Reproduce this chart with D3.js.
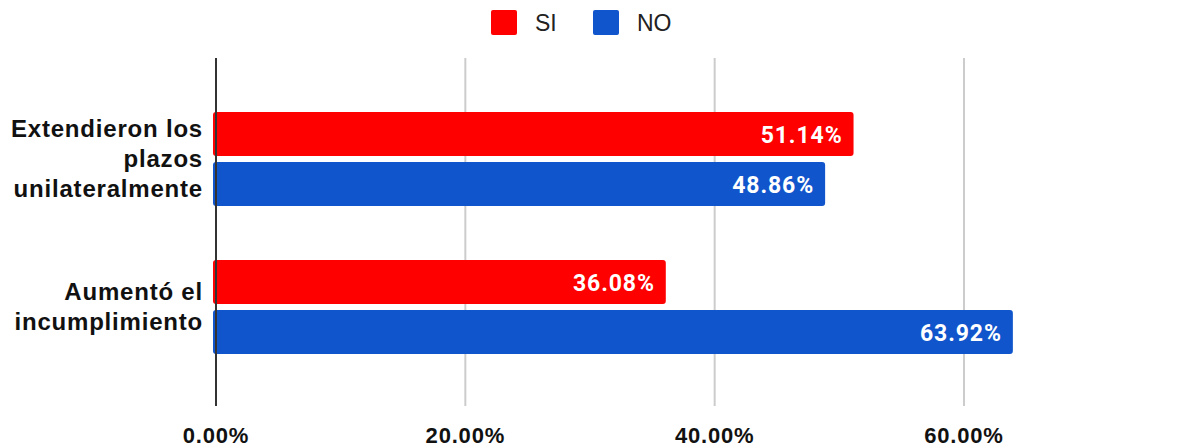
<!DOCTYPE html>
<html>
<head>
<meta charset="utf-8">
<script src="https://cdn.jsdelivr.net/npm/d3@7"></script>
<style>
  body { margin: 0; background: #fff; }
  svg { display: block; }
</style>
</head>
<body>
<div id="chart"></div>
<script>
var categories = ["Extendieron los plazos unilateralmente", "Aumentó el incumplimiento"];
var categoryLines = [["Extendieron los", "plazos", "unilateralmente"], ["Aumentó el", "incumplimiento"]];
var seriesNames = ["SI", "NO"];
var siValues = [0.5114, 0.3608];
var noValues = [0.4886, 0.6392];
var tickValues = [0, 0.2, 0.4, 0.6];

var width = 1200,
  height = 447;

var color = d3.scaleOrdinal().domain(seriesNames).range(["#ff0000", "#1155cc"]);
var pct = d3.format(".2%");

var svg = d3
  .select("#chart")
  .append("svg")
  .attr("width", width)
  .attr("height", height);

var x = d3.scaleLinear().domain([0, 0.6]).range([216, 964]);

var y0 = d3
  .scaleBand()
  .domain(categories)
  .range([112, 354])
  .paddingInner(54 / 148);

var y1 = d3
  .scaleBand()
  .domain(seriesNames)
  .range([0, y0.bandwidth()])
  .paddingInner(0.12);

// gridlines
svg
  .selectAll(".grid")
  .data(tickValues.slice(1))
  .enter()
  .append("line")
  .attr("class", "grid")
  .attr("x1", function(d) { return x(d); })
  .attr("x2", function(d) { return x(d); })
  .attr("y1", 58)
  .attr("y2", 406)
  .style("stroke", "#cccccc")
  .style("stroke-width", 2);

// bars
var rows = categories.map(function(c, i) {
  return { cat: c, values: [siValues[i], noValues[i]] };
});

var groups = svg
  .selectAll(".group")
  .data(rows)
  .enter()
  .append("g")
  .attr("class", "group")
  .attr("transform", function(d) { return "translate(0," + y0(d.cat) + ")"; });

var cells = groups
  .selectAll(".bar")
  .data(function(d) {
    return seriesNames.map(function(s, j) { return { s: s, v: d.values[j] }; });
  })
  .enter()
  .append("g")
  .attr("class", "bar");

cells
  .append("rect")
  .attr("x", x(0) - 3)
  .attr("y", function(d) { return y1(d.s); })
  .attr("width", function(d) { return x(d.v) - x(0) + 3; })
  .attr("height", y1.bandwidth())
  .attr("rx", 3)
  .style("fill", function(d) { return color(d.s); });

cells
  .append("text")
  .attr("x", function(d) { return x(d.v) - 11; })
  .attr("y", function(d) { return y1(d.s) + y1.bandwidth() / 2 + 8.5; })
  .attr("text-anchor", "end")
  .style("font-family", "Roboto, sans-serif")
  .style("font-weight", 700)
  .style("font-size", "23px")
  .style("letter-spacing", "0.9px")
  .style("fill", "#ffffff")
  .text(function(d) { return pct(d.v); });

// zero axis
svg
  .append("line")
  .attr("x1", x(0))
  .attr("x2", x(0))
  .attr("y1", 58)
  .attr("y2", 406)
  .style("stroke", "#333333")
  .style("stroke-width", 2);

// tick labels
svg
  .selectAll(".tick-label")
  .data(tickValues)
  .enter()
  .append("text")
  .attr("class", "tick-label")
  .attr("x", function(d) { return x(d); })
  .attr("y", 443)
  .attr("text-anchor", "middle")
  .style("font-family", "'Liberation Sans', Arial, sans-serif")
  .style("font-weight", 700)
  .style("font-size", "22px")
  .style("letter-spacing", "0.8px")
  .style("fill", "#111111")
  .text(function(d) { return pct(d); });

// category labels
var catLabels = svg
  .selectAll(".cat-label")
  .data(categories)
  .enter()
  .append("text")
  .attr("class", "cat-label")
  .attr("text-anchor", "end")
  .style("font-family", "'Liberation Sans', Arial, sans-serif")
  .style("font-weight", 700)
  .style("font-size", "24px")
  .style("letter-spacing", "0.8px")
  .style("fill", "#111111");

catLabels
  .selectAll("tspan")
  .data(function(d, i) {
    var lines = categoryLines[i];
    var mid = y0(d) + y0.bandwidth() / 2;
    return lines.map(function(l, k) {
      return { text: l, y: mid + 8 + (k - (lines.length - 1) / 2) * 30 };
    });
  })
  .enter()
  .append("tspan")
  .attr("x", 203)
  .attr("y", function(d) { return d.y; })
  .text(function(d) { return d.text; });

// legend
var legend = svg
  .selectAll(".legend")
  .data(seriesNames)
  .enter()
  .append("g")
  .attr("class", "legend")
  .attr("transform", function(d, i) { return "translate(" + (491 + i * 102) + ",10)"; });

legend
  .append("rect")
  .attr("width", 26)
  .attr("height", 25)
  .attr("rx", 2)
  .style("fill", function(d) { return color(d); });

legend
  .append("text")
  .attr("x", 44)
  .attr("y", 21)
  .style("font-family", "'Liberation Sans', Arial, sans-serif")
  .style("font-size", "23px")
  .style("fill", "#222222")
  .text(function(d) { return d; });
</script>
</body>
</html>
